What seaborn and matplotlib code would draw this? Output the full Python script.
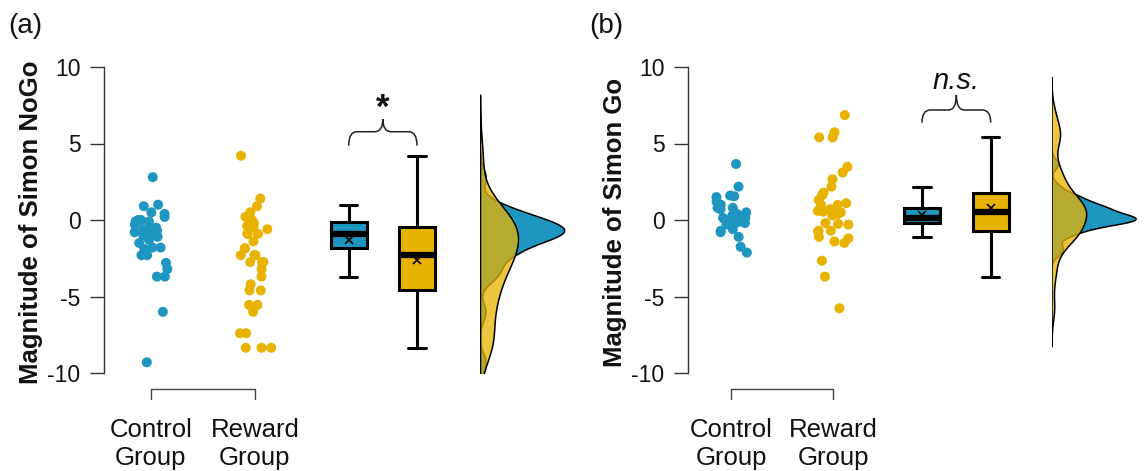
import numpy as np
import pandas as pd
import matplotlib
matplotlib.use("Agg")
import matplotlib.pyplot as plt
from matplotlib.path import Path
from matplotlib.patches import PathPatch
import seaborn as sns

# ---------------- data ----------------
groups = ["Control\nGroup", "Reward\nGroup"]

control_nogo = [2.8, 1.0, 0.9, 0.5, 0.4, 0.2, 0.0, 0.0, -0.1, -0.1, -0.3, -0.5, -0.5,
                -0.6, -0.7, -0.8, -0.8, -0.9, -0.9, -1.0, -1.0, -1.1, -1.3, -1.5, -1.8,
                -1.8, -1.9, -2.3, -2.3, -2.8, -3.2, -3.7, -3.7, -6.0, -9.3]
reward_nogo = [4.2, 1.4, 0.9, 0.5, 0.2, 0.0, -0.2, -0.4, -0.4, -0.45, -0.6, -0.9, -0.9,
               -0.9, -1.4, -1.85, -1.85, -2.3, -2.3, -2.3, -2.75, -2.75, -2.75, -3.2,
               -3.7, -4.2, -4.6, -4.6, -5.55, -5.55, -6.0, -7.4, -7.4, -8.35, -8.35, -8.35]

control_go = [3.66, 2.18, 1.6, 1.55, 1.5, 1.2, 1.0, 0.95, 0.8, 0.8, 0.8, 0.7, 0.5, 0.4,
              0.3, 0.25, 0.13, 0.15, 0.1, 0.1, 0.05, 0.0, -0.1, -0.15, -0.2, -0.2, -0.3,
              -0.6, -0.7, -0.8, -1.1, -1.75, -2.13]
reward_go = [6.86, 5.73, 5.4, 5.4, 3.48, 3.1, 2.66, 2.18, 1.79, 1.63, 1.3, 1.1, 0.98,
             0.98, 0.7, 0.6, 0.55, 0.5, 0.4, 0.3, -0.2, -0.25, -0.3, -0.7, -0.7, -0.75,
             -1.1, -1.2, -1.4, -1.5, -2.66, -3.7, -5.77]

panel_labels = ["(a)", "(b)"]
y_labels = ["Magnitude of Simon NoGo", "Magnitude of Simon Go"]
sig_labels = ["*", "n.s."]
y_ticks = [-10, -5, 0, 5, 10]

BLUE = "#1F96BF"
YELLOW = "#E8B300"
palette = {groups[0]: BLUE, groups[1]: YELLOW}

# ---------------- figure ----------------
sns.set_theme(style="white")
plt.rcParams["font.family"] = ["Liberation Sans", "DejaVu Sans"]

W, H = 1145, 471
fig = plt.figure(figsize=(W / 100, H / 100), dpi=100)
TOP, BOT = 67, 373


def add_ax(left, width):
    ax = fig.add_axes([left / W, (H - BOT) / H, width / W, (BOT - TOP) / H])
    ax.patch.set_alpha(0)
    return ax


def nrd0(x):
    x = np.asarray(x, float)
    sd = np.std(x, ddof=1)
    q75, q25 = np.percentile(x, [75, 25])
    lo = min(sd, (q75 - q25) / 1.34)
    return 0.9 * lo * len(x) ** (-0.2)


def brace(ax, x0, x1, y_end, y_mid, y_tip, r=0.12):
    xm = (x0 + x1) / 2
    verts = [(x0, y_end), (x0, y_mid), (x0 + r, y_mid),
             (xm - r, y_mid), (xm, y_mid), (xm, y_tip),
             (xm, y_mid), (xm + r, y_mid),
             (x1 - r, y_mid), (x1, y_mid), (x1, y_end)]
    codes = [Path.MOVETO, Path.CURVE3, Path.CURVE3,
             Path.LINETO, Path.CURVE3, Path.CURVE3,
             Path.CURVE3, Path.CURVE3,
             Path.LINETO, Path.CURVE3, Path.CURVE3]
    ax.add_patch(PathPatch(Path(verts, codes), fill=False, lw=1.1,
                           edgecolor="#222222", clip_on=False))


panels = [
    dict(ctrl=control_nogo, rew=reward_nogo, spine=104, strip=(151, 255),
         box=(348.7, 417.0), kde=480, brace=(4.86, 5.77, 6.6), sig_y=6.2,
         sig_style="normal", sig_size=25, sig_weight="bold", label_x=8),
    dict(ctrl=control_go, rew=reward_go, spine=688, strip=(731, 833),
         box=(922.0, 990.7), kde=1051.5, brace=(6.36, 7.19, 8.17), sig_y=8.15,
         sig_style="italic", sig_size=21, sig_weight="normal", label_x=589),
]

np.random.seed(3)
for i, p in enumerate(panels):
    df = pd.DataFrame({
        "group": [groups[0]] * len(p["ctrl"]) + [groups[1]] * len(p["rew"]),
        "value": list(p["ctrl"]) + list(p["rew"]),
    })

    # main axis with y spine
    ax = add_ax(p["spine"], 6)
    ax.set_ylim(-10, 10)
    ax.set_xlim(0, 1)
    for s in ["top", "right", "bottom"]:
        ax.spines[s].set_visible(False)
    ax.spines["left"].set_color("#333333")
    ax.spines["left"].set_linewidth(1.0)
    ax.set_yticks(y_ticks)
    ax.set_yticklabels([str(t) for t in y_ticks])
    ax.set_xticks([])
    ax.tick_params(axis="y", length=10, width=1.0, color="#333333", pad=7,
                   labelsize=16.5, labelcolor="#111111", left=True)
    ax.set_ylabel(y_labels[i], fontsize=18.5, fontweight="bold", color="#111111")
    ax.yaxis.set_label_coords(p["spine"] - 61, H - 222,
                              transform=matplotlib.transforms.IdentityTransform())

    # strip (rain) axes
    c0, c1 = p["strip"]
    sp = c1 - c0
    sax = add_ax(c0 - sp / 2, 2 * sp)
    sns.stripplot(data=df, x="group", y="value", hue="group", order=groups,
                  hue_order=groups, palette=palette, jitter=0.165, size=7.2,
                  linewidth=0, legend=False, ax=sax, clip_on=False)
    sax.set_xlim(-0.5, 1.5)
    sax.set_ylim(-10, 10)
    sns.despine(ax=sax, left=True, bottom=True)
    sax.set_yticks([])
    sax.set_xlabel("")
    sax.set_ylabel("")
    sax.tick_params(axis="x", length=0, pad=32.5, labelsize=18.5, labelcolor="#111111")
    for t in sax.get_xticklabels():
        t.set_linespacing(1.22)
    sax.plot([0, 0, 1, 1], [-11.7, -11.05, -11.05, -11.7], color="#444444",
             lw=1.0, clip_on=False)

    # box axes
    b0, b1 = p["box"]
    bs = b1 - b0
    bax = add_ax(b0 - bs / 2, 2 * bs)
    sns.boxplot(data=df, x="group", y="value", hue="group", order=groups,
                hue_order=groups, palette=palette, width=0.525, saturation=1,
                showfliers=False, showmeans=True, linewidth=2.2, linecolor="black",
                medianprops=dict(linewidth=4.5, color="black"),
                meanprops=dict(marker="x", markeredgecolor="black",
                               markerfacecolor="black", markersize=6,
                               markeredgewidth=1.2),
                capwidths=0.25, legend=False, ax=bax)
    bax.set_xlim(-0.5, 1.5)
    bax.set_ylim(-10, 10)
    sns.despine(ax=bax, left=True, bottom=True)
    bax.set_xticks([])
    bax.set_yticks([])
    bax.set_xlabel("")
    bax.set_ylabel("")
    ye, ym, yt = p["brace"]
    brace(bax, 0, 1, ye, ym, yt)
    bax.text(0.5, p["sig_y"], sig_labels[i], ha="center", va="bottom",
             fontsize=p["sig_size"], fontstyle=p["sig_style"],
             fontweight=p["sig_weight"], color="#111111")

    # density (cloud) axes
    kax = add_ax(p["kde"], 85)
    for vals, col, a in [(p["ctrl"], BLUE, 1.0), (p["rew"], YELLOW, 0.75)]:
        bw = nrd0(vals) / np.std(vals, ddof=1)
        sns.kdeplot(y=vals, bw_method=bw, cut=3, fill=True, color=col, alpha=a,
                    edgecolor="black", linewidth=1.1, ax=kax)
    xmax = max(c.get_paths()[0].vertices[:, 0].max() for c in kax.collections)
    kax.set_xlim(0, xmax * 1.01)
    kax.set_ylim(-10, 10)
    sns.despine(ax=kax, left=True, bottom=True)
    kax.set_xticks([])
    kax.set_yticks([])
    kax.set_xlabel("")
    kax.set_ylabel("")

    fig.text(p["label_x"] / W, 1 - 26 / H, panel_labels[i], fontsize=20,
             ha="left", va="center", color="#111111")

fig.savefig("out.png", dpi=100)
